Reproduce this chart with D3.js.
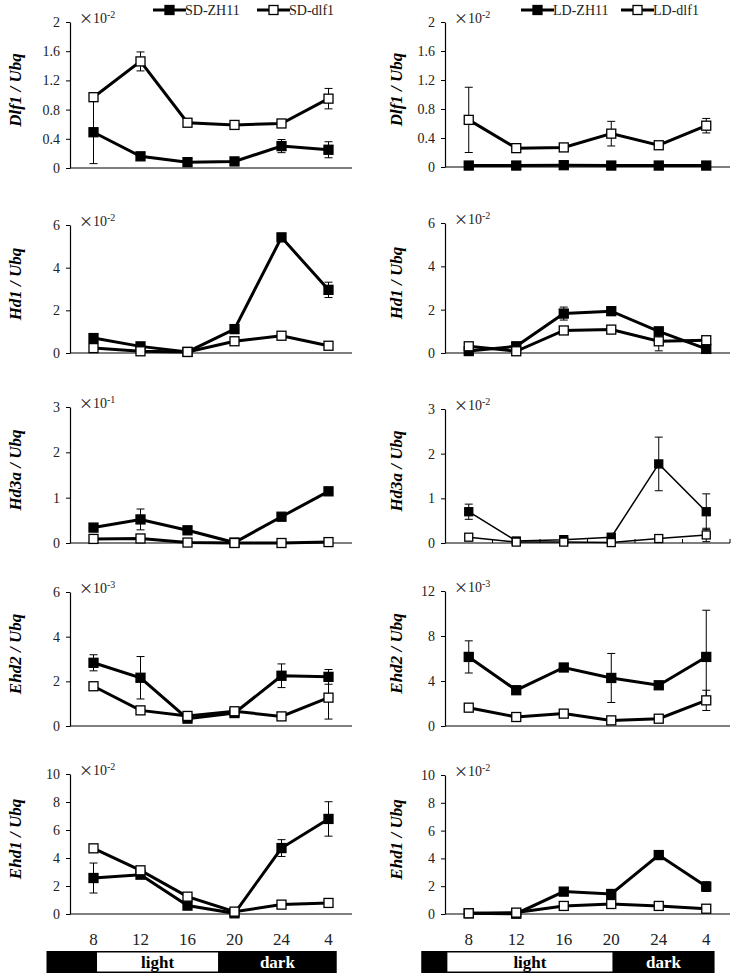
<!DOCTYPE html>
<html><head><meta charset="utf-8">
<script src="https://cdn.jsdelivr.net/npm/d3@7"></script>
<style>body{margin:0;background:#fff}svg{display:block}text{font-family:"Liberation Serif","Times New Roman",serif}</style>
</head><body><svg id="c" width="742" height="979"></svg>
<script>
// ---------- data ----------
const times = ["8","12","16","20","24","4"];
const genes = ["Dlf1","Hd1","Hd3a","Ehd2","Ehd1"];
const sdNames = ["SD-ZH11","SD-dlf1"];
const ldNames = ["LD-ZH11","LD-dlf1"];
const sdYMax = [2,6,3,6,10];
const ldYMax = [2,6,3,12,10];
const sdExp = ["-2","-2","-1","-3","-2"];
const ldExp = ["-2","-2","-2","-3","-2"];
const sdTicks = [[0,0.4,0.8,1.2,1.6,2],[0,2,4,6],[0,1,2,3],[0,2,4,6],[0,2,4,6,8,10]];
const ldTicks = [[0,0.4,0.8,1.2,1.6,2],[0,2,4,6],[0,1,2,3],[0,4,8,12],[0,2,4,6,8,10]];
// SD ZH11 means / errors
const sdZH11 = [
  [0.49,0.16,0.08,0.09,0.30,0.25],
  [0.70,0.31,0.05,1.12,5.42,2.96],
  [0.34,0.52,0.28,0.01,0.58,1.14],
  [2.83,2.16,0.33,0.58,2.25,2.20],
  [2.57,2.81,0.60,0.05,4.71,6.79]];
const sdZH11Err = [
  [0.43,0.02,0.02,0.03,0.09,0.11],
  [0.20,0.08,0.03,0.20,0.10,0.36],
  [0.03,0.23,0.03,0.01,0.03,0.03],
  [0.36,0.95,0.10,0.05,0.53,0.33],
  [1.07,0.25,0.10,0.05,0.60,1.23]];
const sdDlf1 = [
  [0.97,1.46,0.62,0.59,0.61,0.95],
  [0.23,0.08,0.05,0.55,0.81,0.34],
  [0.09,0.10,0.01,0.00,0.00,0.02],
  [1.78,0.70,0.45,0.66,0.43,1.27],
  [4.69,3.12,1.24,0.17,0.67,0.79]];
const sdDlf1Err = [
  [0.03,0.13,0.04,0.02,0.02,0.14],
  [0.05,0.03,0.02,0.05,0.05,0.05],
  [0.01,0.01,0.01,0.00,0.00,0.01],
  [0.05,0.05,0.20,0.05,0.05,0.96],
  [0.10,0.10,0.10,0.05,0.10,0.10]];
const ldZH11 = [
  [0.02,0.02,0.025,0.02,0.02,0.02],
  [0.09,0.31,1.82,1.93,1.00,0.19],
  [0.70,0.045,0.075,0.13,1.77,0.70],
  [6.14,3.18,5.20,4.27,3.62,6.14],
  [0.05,0.02,1.61,1.44,4.24,1.97]];
const ldZH11Err = [
  [0.005,0.005,0.005,0.005,0.005,0.005],
  [0.05,0.05,0.30,0.10,0.10,0.05],
  [0.17,0.01,0.01,0.02,0.60,0.40],
  [1.43,0.20,0.30,2.18,0.20,4.15],
  [0.02,0.02,0.10,0.20,0.15,0.35]];
const ldDlf1 = [
  [0.65,0.26,0.27,0.46,0.30,0.57],
  [0.31,0.08,1.04,1.08,0.54,0.59],
  [0.13,0.02,0.02,0.01,0.10,0.18],
  [1.63,0.80,1.10,0.50,0.65,2.28],
  [0.05,0.10,0.58,0.72,0.58,0.38]];
const ldDlf1Err = [
  [0.45,0.04,0.02,0.17,0.02,0.10],
  [0.05,0.03,0.05,0.05,0.44,0.05],
  [0.02,0.01,0.01,0.01,0.02,0.15],
  [0.10,0.10,0.10,0.10,0.10,0.90],
  [0.02,0.03,0.05,0.05,0.05,0.05]];
// photoperiod bars (hours of day; times axis: 8h at first point, 4 h per step)
const barHours = [4, 28.7];
const sdLight = [8.3, 18.6];
const ldLight = [6.2, 20.1];

// ---------- layout ----------
const svg = d3.select("#c");
const cols = [
  {x0:70, x1:352, lab:15, names:sdNames, yMax:sdYMax, exp:sdExp, ticks:sdTicks,
   s:[[sdZH11,sdZH11Err],[sdDlf1,sdDlf1Err]], light:sdLight,
   rows:[[22,168],[225,353],[407,543],[592,726],[774,914]], legX:[153,257]},
  {x0:445, x1:730, lab:396, names:ldNames, yMax:ldYMax, exp:ldExp, ticks:ldTicks,
   s:[[ldZH11,ldZH11Err],[ldDlf1,ldDlf1Err]], light:ldLight,
   rows:[[22,167],[223,353],[409,543],[591,726],[775,914]], legX:[521,621]}
];

cols.forEach((c,ci)=>{
  const x = d3.scaleBand().domain(times).range([c.x0,c.x1]).padding(0);
  const cx = t => x(t)+x.bandwidth()/2;
  genes.forEach((g,gi)=>{
    const [top,bot] = c.rows[gi];
    const y = d3.scaleLinear().domain([0,c.yMax[gi]]).range([bot,top]);
    const thin = (ci===1 && gi===2);
    const lw = thin ? 1.5 : 3;
    const ms = thin ? 8 : 9;
    const gp = svg.append("g");
    // y axis
    const ax = gp.append("g").attr("transform",`translate(${c.x0},0)`)
      .call(d3.axisLeft(y).tickValues(c.ticks[gi]).tickSize(4).tickSizeOuter(0).tickPadding(6).tickFormat(d=>String(d)));
    ax.attr("font-family","Liberation Serif");
    ax.select(".domain").attr("stroke","#000").attr("stroke-width",1.2);
    ax.selectAll(".tick line").attr("stroke","#000");
    ax.selectAll(".tick text").attr("font-size",14).attr("fill","#222");
    // x axis line
    gp.append("line").attr("x1",c.x0).attr("x2",c.x1).attr("y1",y(0)).attr("y2",y(0)).attr("stroke","#000").attr("stroke-width",1.2);
    if (thin) {
      times.slice(1).concat(["end"]).forEach((t,i)=>{
        const xx = t==="end" ? c.x1 : x(t);
        gp.append("line").attr("x1",xx).attr("x2",xx).attr("y1",y(0)).attr("y2",y(0)-4).attr("stroke","#000");
      });
    }
    // exponent label
    const ex = gp.append("text").attr("x",c.x0+9).attr("y",top+1).attr("font-size",14).attr("fill","#222");
    ex.append("tspan").attr("font-family","Noto Sans CJK SC").attr("font-size",14).text("×");
    ex.append("tspan").text("10");
    ex.append("tspan").attr("font-size",10).attr("dy",-5).text(c.exp[gi]);
    // y label
    gp.append("text").attr("transform",`translate(${c.lab},${(top+bot)/2-5}) rotate(-90)`)
      .attr("text-anchor","middle").attr("dy","0.35em").attr("font-size",17).attr("font-weight","bold").attr("font-style","italic")
      .text(g+" / Ubq");
    // series
    c.s.forEach(([vals,errs],si)=>{
      const v = vals[gi], e = errs[gi];
      const line = d3.line().x((d,i)=>cx(times[i])).y(d=>y(d));
      gp.append("path").datum(v).attr("d",line).attr("fill","none").attr("stroke","#000").attr("stroke-width",lw).attr("stroke-linejoin","miter");
      v.forEach((d,i)=>{
        const xx = cx(times[i]);
        if (e[i] > 0) {
          gp.append("line").attr("x1",xx).attr("x2",xx).attr("y1",y(d-e[i])).attr("y2",y(d+e[i])).attr("stroke","#000").attr("stroke-width",1);
          [d-e[i], d+e[i]].forEach(v2=>gp.append("line").attr("x1",xx-4).attr("x2",xx+4).attr("y1",y(v2)).attr("y2",y(v2)).attr("stroke","#000").attr("stroke-width",1));
        }
      });
    });
    c.s.forEach(([vals],si)=>{
      vals[gi].forEach((d,i)=>{
        const xx = cx(times[i]);
        gp.append("rect").attr("x",xx-ms/2).attr("y",y(d)-ms/2).attr("width",ms).attr("height",ms)
          .attr("fill", si===0 ? "#000" : "#fff").attr("stroke","#000").attr("stroke-width",1.3);
      });
    });
    // legend
    if (gi===0) {
      c.names.forEach((n,ni)=>{
        const lx = c.legX[ni];
        gp.append("line").attr("x1",lx).attr("x2",lx+33).attr("y1",10).attr("y2",10).attr("stroke","#000").attr("stroke-width",3);
        gp.append("rect").attr("x",lx+16.5-4.5).attr("y",10-4.5).attr("width",9).attr("height",9)
          .attr("fill", ni===0 ? "#000" : "#fff").attr("stroke","#000").attr("stroke-width",1.3);
        gp.append("text").attr("x",lx+32).attr("y",15).attr("font-size",14).attr("fill","#222").text(n);
      });
    }
    // bottom row: x labels and light/dark bar
    if (gi===genes.length-1) {
      times.forEach(t=>gp.append("text").attr("x",cx(t)).attr("y",945).attr("text-anchor","middle").attr("font-size",17).attr("fill","#222").text(t));
      const h = d3.scaleLinear().domain([8,12]).range([cx("8"),cx("12")]);
      const by = 951, bh = 22;
      gp.append("rect").attr("x",h(barHours[0])).attr("y",by).attr("width",h(barHours[1])-h(barHours[0])).attr("height",bh).attr("fill","#000");
      gp.append("rect").attr("x",h(c.light[0])).attr("y",by+1.5).attr("width",h(c.light[1])-h(c.light[0])).attr("height",bh-3).attr("fill","#fff");
      gp.append("text").attr("x",(h(c.light[0])+h(c.light[1]))/2).attr("y",by+17).attr("text-anchor","middle")
        .attr("font-size",17).attr("font-weight","bold").attr("fill","#000").text("light");
      gp.append("text").attr("x",(h(c.light[1])+h(barHours[1]))/2).attr("y",by+17).attr("text-anchor","middle")
        .attr("font-size",17).attr("font-weight","bold").attr("fill","#fff").text("dark");
    }
  });
});
</script></body></html>
